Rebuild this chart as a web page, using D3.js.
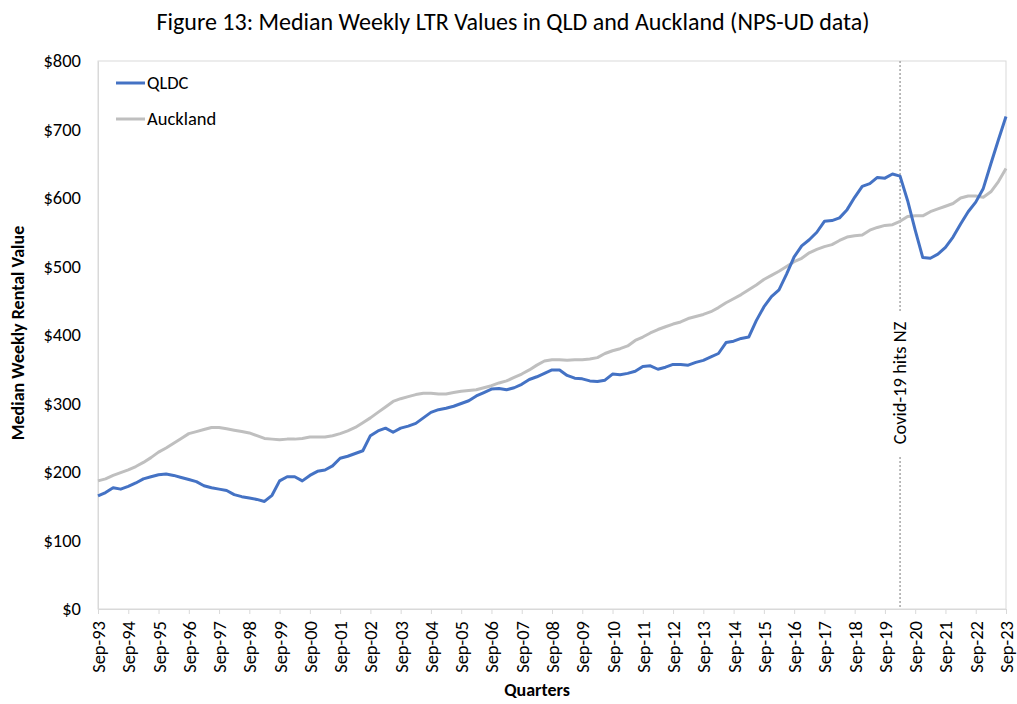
<!DOCTYPE html>
<html>
<head>
<meta charset="utf-8">
<script src="https://cdn.jsdelivr.net/npm/d3@7"></script>
<style>
  body { margin: 0; background: #fff; }
  svg text { font-family: Carlito, Calibri, Lato, sans-serif; fill: #000; }
</style>
</head>
<body>
<svg id="chart"></svg>
<script>
// quarter labels Sep-93 .. Sep-23
var months = ["Mar", "Jun", "Sep", "Dec"];
var quarters = [];
for (var y = 1993; y <= 2023; y++) {
  months.forEach(function(m, k) {
    if (y == 1993 && k < 2) return;
    if (y == 2023 && k > 2) return;
    quarters.push(m + "-" + String(y).slice(2));
  });
}

var qldc = [
  165, 170, 177, 175, 179, 184, 190, 193, 196, 197,
  195, 192, 189, 186, 180, 177, 175, 173, 167, 164,
  162, 160, 157, 166, 187, 193, 193, 187, 195, 201,
  203, 209, 220, 223, 227, 231, 253, 260, 264, 258,
  264, 267, 271, 279, 287, 291, 293, 296, 300, 304,
  311, 316, 321, 322, 320, 323, 328, 335, 339, 344,
  349, 349, 341, 337, 336, 333, 332, 334, 343, 342,
  344, 347, 354, 355, 350, 353, 357, 357, 356, 360,
  363, 368, 373, 389, 391, 395, 397, 421, 441, 456,
  466, 489, 514, 530, 539, 550, 566, 567, 571, 583,
  601, 617, 621, 630, 629, 635, 632, 596, 553, 513,
  512, 518, 528, 543, 562, 580, 594, 614, 650, 685,
  719
];

var auckland = [
  187, 190, 195, 199, 203, 208, 214, 221, 229, 235,
  242, 249, 256, 259, 262, 265, 265, 263, 261, 259,
  257, 253, 249, 248, 247, 248, 248, 249, 251, 251,
  251, 253, 256, 260, 265, 272, 279, 287, 295, 303,
  307, 310, 313, 315, 315, 314, 314, 316, 318, 319,
  320, 323, 326, 330, 333, 338, 343, 349, 356, 362,
  364, 364, 363, 364, 364, 365, 367, 373, 377, 380,
  384, 392, 397, 403, 408, 412, 416, 419, 424, 427,
  430, 434, 440, 447, 453, 459, 466, 473, 481, 487,
  493, 500, 507, 512, 520, 525, 529, 532, 538, 543,
  545, 546, 553, 557, 560, 561, 566, 573, 574, 574,
  580, 584, 588, 592, 600, 603, 603, 601, 609, 624,
  643
];

var seriesNames = ["QLDC", "Auckland"];
var seriesColors = ["#4472C4", "#BFBFBF"];
var yTicks = [0, 100, 200, 300, 400, 500, 600, 700, 800];
var covidQuarter = "Mar-20";
var covidLabel = "Covid-19 hits NZ";

var fontStack = "Carlito, Calibri, Lato, sans-serif";
var screen = { width: 1017, height: 704 };
var margins = { top: 61, bottom: 95, left: 98, right: 11 };
var width = screen.width - margins.left - margins.right;
var height = screen.height - margins.top - margins.bottom;

var svg = d3.select("#chart")
            .attr("width", screen.width)
            .attr("height", screen.height);

var xScale = d3.scalePoint()
               .domain(quarters)
               .range([0, width]);
var yScale = d3.scaleLinear()
               .domain([0, 800])
               .range([height, 0]);

var plot = svg.append("g")
              .attr("transform", "translate(" + margins.left + "," + margins.top + ")");

// plot area border
plot.append("rect")
    .attr("x", 0).attr("y", 0)
    .attr("width", width).attr("height", height)
    .attr("fill", "none")
    .attr("stroke", "#D9D9D9")
    .attr("stroke-width", 1);

// y axis
var yAxis = d3.axisLeft(yScale)
              .tickValues(yTicks)
              .tickSize(0)
              .tickPadding(17)
              .tickFormat(function(d) { return "$" + d; });
var gy = plot.append("g").call(yAxis);
gy.select(".domain").attr("stroke", "#D9D9D9");
gy.selectAll("text").attr("font-size", 18.5).attr("fill", "#000")
  .style("font-family", fontStack);

// x axis
var xAxis = d3.axisBottom(xScale)
              .tickValues(quarters.filter(function(q) { return q.indexOf("Sep") == 0; }))
              .tickSize(5)
              .tickSizeOuter(0);
var gx = plot.append("g")
             .attr("transform", "translate(0," + height + ")")
             .call(xAxis);
gx.select(".domain").attr("stroke", "#D9D9D9");
gx.selectAll(".tick line").attr("stroke", "#D9D9D9");
gx.selectAll("text")
  .attr("font-size", 18.5)
  .attr("fill", "#000")
  .style("font-family", fontStack)
  .attr("text-anchor", "end")
  .attr("dy", "0.35em")
  .attr("y", 0)
  .attr("transform", "translate(0,12) rotate(-90)");

// covid marker
var cx = xScale(covidQuarter);
plot.append("line")
    .attr("x1", cx).attr("x2", cx)
    .attr("y1", 0).attr("y2", height)
    .attr("stroke", "#A6A6A6")
    .attr("stroke-width", 1.5)
    .attr("stroke-dasharray", "2,2");
var covidY = 322;
plot.append("rect")
    .attr("x", cx - 12).attr("y", covidY - 72)
    .attr("width", 24).attr("height", 144)
    .attr("fill", "#fff");
plot.append("text")
    .attr("transform", "translate(" + (cx + 6) + "," + covidY + ") rotate(-90)")
    .attr("text-anchor", "middle")
    .attr("font-size", 18.5)
    .text(covidLabel);

// lines
var line = d3.line()
             .x(function(d, i) { return xScale(quarters[i]); })
             .y(function(d) { return yScale(d); });

[auckland, qldc].forEach(function(s, k) {
  plot.append("path")
      .datum(s)
      .attr("fill", "none")
      .attr("stroke", seriesColors[1 - k])
      .attr("stroke-width", 3)
      .attr("stroke-linejoin", "round")
      .attr("d", line);
});

// legend
var legend = svg.append("g")
                .attr("transform", "translate(116,83)");
var legendLines = legend.selectAll("g")
                        .data(seriesNames)
                        .enter()
                        .append("g")
                        .attr("transform", function(d, i) { return "translate(0," + (i * 36) + ")"; });
legendLines.append("line")
           .attr("x1", 0).attr("x2", 29)
           .attr("y1", 0).attr("y2", 0)
           .attr("stroke", function(d, i) { return seriesColors[i]; })
           .attr("stroke-width", 3);
legendLines.append("text")
           .attr("x", 31)
           .attr("y", 0)
           .attr("dy", "0.35em")
           .attr("font-size", 18.5)
           .text(function(d) { return d; });

// titles
svg.append("text")
   .attr("x", 513)
   .attr("y", 30)
   .attr("text-anchor", "middle")
   .attr("font-size", 24)
   .text("Figure 13: Median Weekly LTR Values in QLD and Auckland (NPS-UD data)");

svg.append("text")
   .attr("transform", "translate(24,333) rotate(-90)")
   .attr("text-anchor", "middle")
   .attr("font-size", 18)
   .attr("font-weight", "bold")
   .text("Median Weekly Rental Value");

svg.append("text")
   .attr("x", 537)
   .attr("y", 696)
   .attr("text-anchor", "middle")
   .attr("font-size", 18)
   .attr("font-weight", "bold")
   .text("Quarters");
</script>
</body>
</html>
